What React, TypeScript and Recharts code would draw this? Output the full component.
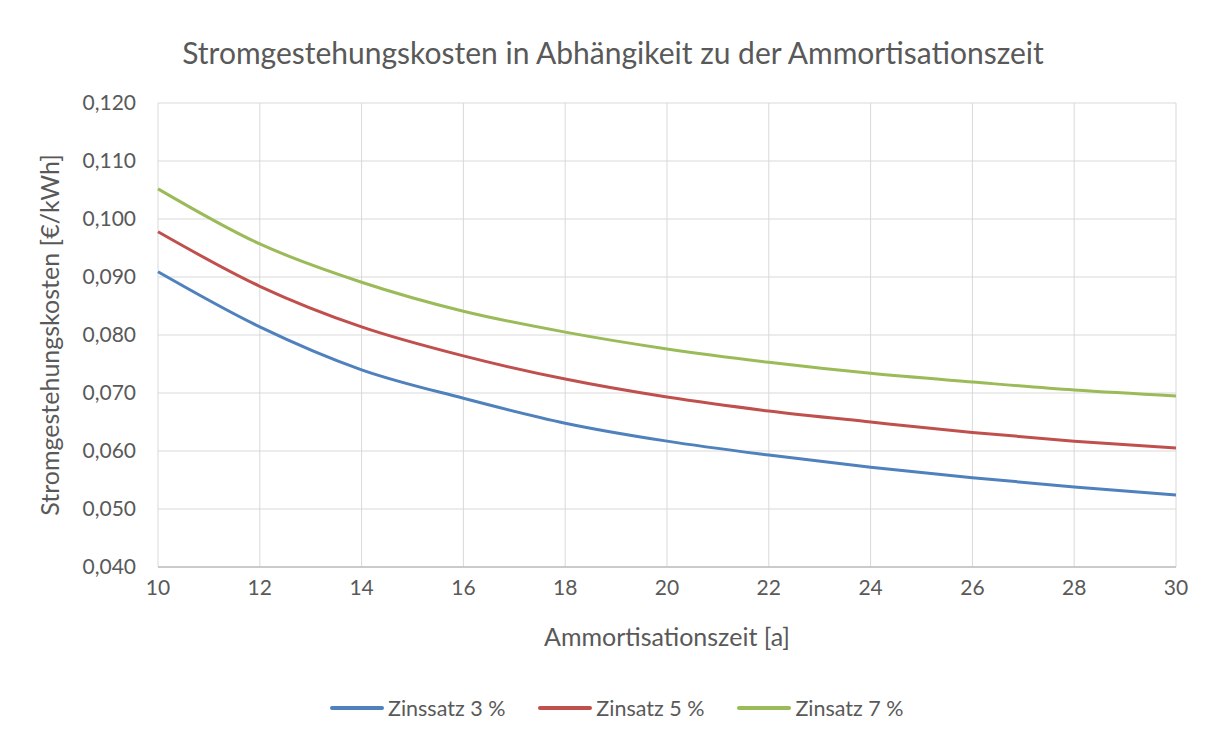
import React from 'react';
import { LineChart, Line, XAxis, YAxis, CartesianGrid } from 'recharts';

const years = [10, 12, 14, 16, 18, 20, 22, 24, 26, 28, 30];
const zins3 = [0.0909, 0.0814, 0.074, 0.0691, 0.0648, 0.0617, 0.0593, 0.0572, 0.0554, 0.0538, 0.0524];
const zins5 = [0.0978, 0.0884, 0.0814, 0.0764, 0.0724, 0.0693, 0.0669, 0.065, 0.0632, 0.0617, 0.0605];
const zins7 = [0.1052, 0.0957, 0.0891, 0.0841, 0.0805, 0.0776, 0.0753, 0.0734, 0.0719, 0.0705, 0.0695];
const yTicks = [0.04, 0.05, 0.06, 0.07, 0.08, 0.09, 0.1, 0.11, 0.12];
const xTicks = [10, 12, 14, 16, 18, 20, 22, 24, 26, 28, 30];

const series = [
  { key: 'z3', name: 'Zinssatz 3 %', color: '#4f81bd', values: zins3 },
  { key: 'z5', name: 'Zinsatz 5 %', color: '#c0504d', values: zins5 },
  { key: 'z7', name: 'Zinsatz 7 %', color: '#9bbb59', values: zins7 },
];

const data = years.map((y, i) => {
  const row: any = { year: y };
  series.forEach((s) => (row[s.key] = s.values[i]));
  return row;
});

const FONT = 'Lato, "Open Sans", sans-serif';
const TXT = '#595959';

export default function App() {
  return (
    <div style={{ position: 'relative', width: 1210, height: 740, fontFamily: FONT }}>
      <div
        style={{
          position: 'absolute',
          left: -1,
          top: -1,
          width: 1210,
          height: 740,
          border: '1px solid #d9d9d9',
        }}
      />
      <div
        style={{
          position: 'absolute',
          left: 0,
          top: 25,
          width: 1210,
          textAlign: 'center',
          fontSize: 30,
          color: TXT,
          lineHeight: '38px',
        }}
      >
        Stromgestehungskosten in Abhängikeit zu der Ammortisationszeit
      </div>
      <LineChart
        width={1210}
        height={740}
        data={data}
        margin={{ top: 95, right: 42, left: 0, bottom: 101 }}
        style={{ position: 'absolute', left: 0, top: 0 }}
      >
        <CartesianGrid stroke="#d9d9d9" strokeWidth={1} />
        <XAxis
          dataKey="year"
          type="number"
          domain={[10, 30]}
          ticks={xTicks}
          height={80}
          tickSize={0}
          tickMargin={13}
          axisLine={{ stroke: '#bfbfbf', strokeWidth: 1.5 }}
          tick={{ fill: TXT, fontSize: 21, fontFamily: FONT }}
          label={{
            value: 'Ammortisationszeit [a]',
            position: 'insideBottom',
            offset: 1,
            style: { fill: TXT, fontSize: 25, fontFamily: FONT },
          }}
        />
        <YAxis
          type="number"
          domain={[0.04, 0.12]}
          ticks={yTicks}
          width={150}
          tickSize={0}
          tickMargin={22}
          axisLine={false}
          tickFormatter={(v: number) => v.toFixed(3).replace('.', ',')}
          tick={{ fill: TXT, fontSize: 21, fontFamily: FONT }}
          label={{
            value: 'Stromgestehungskosten [€/kWh]',
            angle: -90,
            position: 'insideLeft',
            offset: 42,
            style: { fill: TXT, fontSize: 25, fontFamily: FONT, textAnchor: 'middle' },
          }}
        />
        {series.map((s) => (
          <Line
            key={s.key}
            dataKey={s.key}
            name={s.name}
            type="monotone"
            stroke={s.color}
            strokeWidth={3}
            dot={false}
            isAnimationActive={false}
          />
        ))}
      </LineChart>
      <div
        style={{
          position: 'absolute',
          left: 322,
          top: 686,
          display: 'flex',
          gap: 33,
          fontSize: 21.5,
          color: TXT,
          lineHeight: '28px',
        }}
      >
        {series.map((s) => (
          <div key={s.key} style={{ display: 'flex', alignItems: 'center' }}>
            <div style={{ width: 54, height: 4, borderRadius: 2, background: s.color, marginRight: 4 }} />
            <span>{s.name}</span>
          </div>
        ))}
      </div>
    </div>
  );
}
